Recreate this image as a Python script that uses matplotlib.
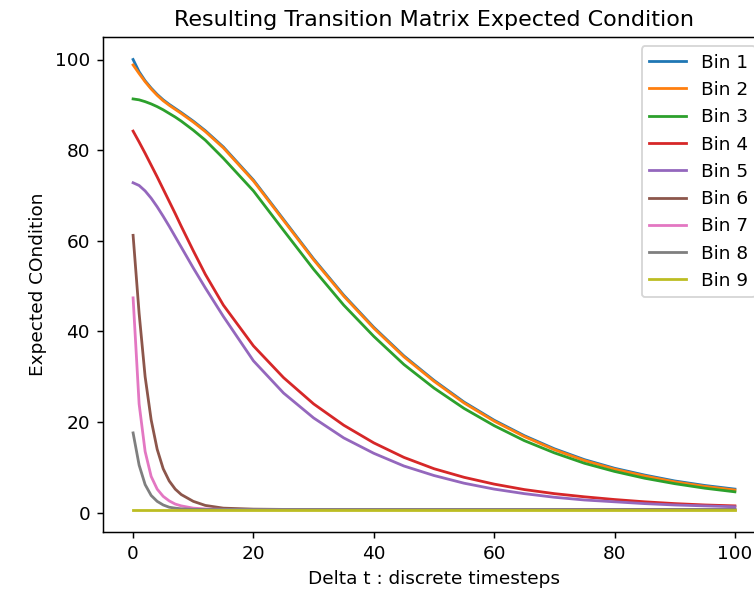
import matplotlib
matplotlib.use("Agg")
import matplotlib.pyplot as plt

# Delta t sample positions
t_points = [0, 1, 2, 3, 4, 5, 6, 7, 8, 10, 12, 15, 20, 25, 30, 35, 40, 45,
            50, 55, 60, 65, 70, 75, 80, 85, 90, 95, 100]

bin1 = [100.0, 97.3, 95.3, 93.7, 92.3, 91.1, 90.1, 89.2, 88.3, 86.4, 84.3, 80.7,
        73.4, 64.7, 56.0, 48.0, 40.9, 34.6, 29.2, 24.4, 20.4, 17.0, 14.1, 11.7,
        9.8, 8.3, 7.0, 6.0, 5.2]
bin2 = [98.8, 96.9, 95.1, 93.5, 92.1, 90.9, 89.9, 89.0, 88.1, 86.2, 84.1, 80.5,
        73.2, 64.5, 55.8, 47.8, 40.7, 34.4, 29.0, 24.2, 20.2, 16.8, 13.9, 11.5,
        9.6, 8.1, 6.8, 5.8, 5.0]
bin3 = [91.3, 91.1, 90.7, 90.2, 89.6, 88.9, 88.1, 87.3, 86.4, 84.4, 82.2, 78.2,
        71.0, 62.3, 53.7, 45.8, 38.9, 32.7, 27.5, 23.0, 19.2, 15.9, 13.2, 10.9,
        9.1, 7.6, 6.4, 5.4, 4.6]
bin4 = [84.2, 81.8, 79.3, 76.7, 74.1, 71.4, 68.7, 66.0, 63.2, 57.8, 52.6, 45.8,
        36.8, 29.8, 24.0, 19.3, 15.4, 12.2, 9.7, 7.8, 6.3, 5.1, 4.2, 3.5,
        2.9, 2.4, 2.0, 1.7, 1.5]
bin5 = [72.8, 72.2, 71.0, 69.4, 67.5, 65.4, 63.2, 60.9, 58.6, 54.0, 49.6, 43.3,
        33.5, 26.4, 20.9, 16.5, 13.1, 10.3, 8.2, 6.5, 5.2, 4.2, 3.4, 2.8,
        2.4, 2.0, 1.7, 1.5, 1.3]
bin6 = [61.2, 44.0, 30.0, 20.5, 14.0, 9.7, 7.0, 5.2, 4.0, 2.5, 1.6, 1.0,
        0.78, 0.72, 0.7, 0.7, 0.7, 0.7, 0.7, 0.7, 0.7, 0.7, 0.7, 0.7,
        0.7, 0.7, 0.7, 0.7, 0.7]
bin7 = [47.4, 24.0, 13.5, 8.0, 5.2, 3.6, 2.6, 1.9, 1.5, 1.0, 0.82, 0.73,
        0.7, 0.7, 0.7, 0.7, 0.7, 0.7, 0.7, 0.7, 0.7, 0.7, 0.7, 0.7,
        0.7, 0.7, 0.7, 0.7, 0.7]
bin8 = [17.6, 10.5, 6.2, 3.8, 2.5, 1.7, 1.2, 1.0, 0.85, 0.74, 0.7, 0.7,
        0.7, 0.7, 0.7, 0.7, 0.7, 0.7, 0.7, 0.7, 0.7, 0.7, 0.7, 0.7,
        0.7, 0.7, 0.7, 0.7, 0.7]
bin9 = [0.7, 0.7, 0.7, 0.7, 0.7, 0.7, 0.7, 0.7, 0.7, 0.7, 0.7, 0.7,
        0.7, 0.7, 0.7, 0.7, 0.7, 0.7, 0.7, 0.7, 0.7, 0.7, 0.7, 0.7,
        0.7, 0.7, 0.7, 0.7, 0.7]

series = [bin1, bin2, bin3, bin4, bin5, bin6, bin7, bin8, bin9]
labels = ["Bin 1", "Bin 2", "Bin 3", "Bin 4", "Bin 5", "Bin 6", "Bin 7", "Bin 8", "Bin 9"]

DPI = 133.5
fig = plt.figure(figsize=(754 / DPI, 591 / DPI), dpi=DPI)
ax = fig.add_axes([103 / 754, (591 - 532) / 591, (765 - 103) / 754, (532 - 37) / 591])

for vals, lab in zip(series, labels):
    ax.plot(t_points, vals, label=lab)

ax.set_title("Resulting Transition Matrix Expected Condition")
ax.set_xlabel("Delta t : discrete timesteps")
ax.set_ylabel("Expected COndition")
ax.legend(loc="upper right")

fig.savefig("out.png", dpi=DPI)
